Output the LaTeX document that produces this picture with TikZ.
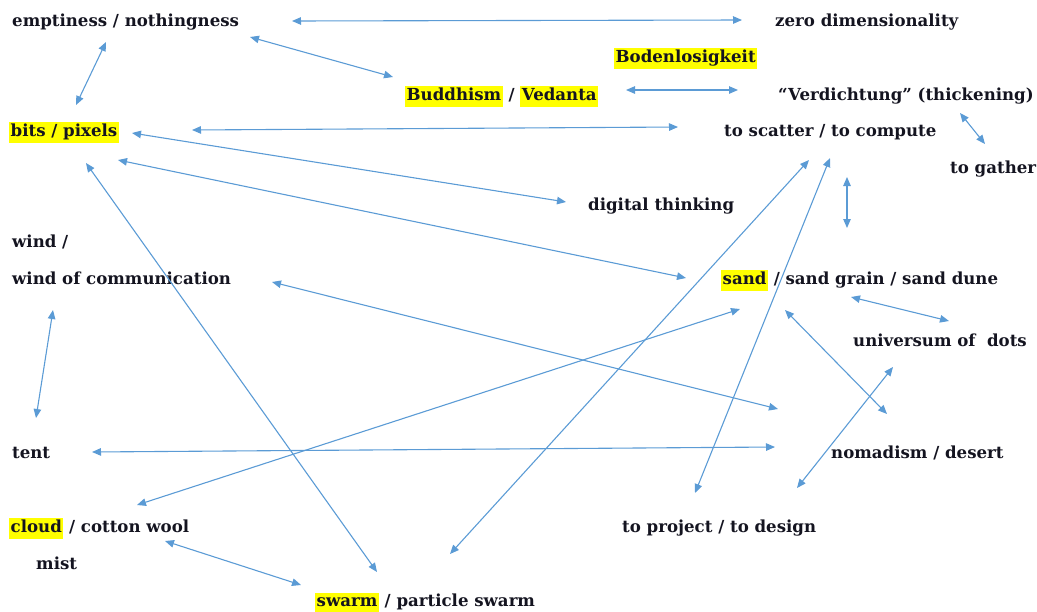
\documentclass[tikz,border=0pt]{standalone}
\usepackage{fontspec}
\setmainfont{DejaVu Serif}
\usetikzlibrary{arrows.meta}
\definecolor{arrowblue}{HTML}{5B9BD5}
\definecolor{hly}{HTML}{FFFF00}
\definecolor{textdark}{HTML}{141420}
\newcommand{\hlword}[1]{{\setlength{\fboxsep}{1.5pt}\colorbox{hly}{\rule[-5.5pt]{0pt}{17.5pt}#1}}}
\tikzset{
  lbl/.style={anchor=base west, inner sep=0pt, text=textdark,
    font=\bfseries\fontsize{16.6}{19}\selectfont},
  link/.style={draw=arrowblue, line width=1.1pt,
    {Triangle[length=9pt,width=7.5pt,fill=arrowblue]}-{Triangle[length=9pt,width=7.5pt,fill=arrowblue]}}
}
\begin{document}
\begin{tikzpicture}[x=1pt,y=-1pt]
\useasboundingbox (0,0) rectangle (1037,611);
% labels
\node[lbl] (empt) at (12,26) {emptiness / nothingness};
\node[lbl] (zero) at (775,26) {zero dimensionality};
\node[lbl] (boden) at (614,62) {\hlword{Bodenlosigkeit}};
\node[lbl] (budd) at (405,100) {\hlword{Buddhism} / \hlword{Vedanta}};
\node[lbl] (verd) at (778,100) {“Verdichtung” (thickening)};
\node[lbl] (bits) at (9,136) {\hlword{bits / pixels}};
\node[lbl] (scat) at (724,136) {to scatter / to compute};
\node[lbl] (gath) at (950,173) {to gather};
\node[lbl] (digi) at (588,210) {digital thinking};
\node[lbl] (wind) at (12,247) {wind /};
\node[lbl] (windc) at (12,284) {wind of communication};
\node[lbl] (sand) at (721,284) {\hlword{sand} / sand grain / sand dune};
\node[lbl] (univ) at (853,346) {universum of \ dots};
\node[lbl] (tent) at (12,458) {tent};
\node[lbl] (nomad) at (831,458) {nomadism / desert};
\node[lbl] (cloud) at (9,532) {\hlword{cloud} / cotton wool};
\node[lbl] (mist) at (36,569) {mist};
\node[lbl] (proj) at (622,532) {to project / to design};
\node[lbl] (swarm) at (315,606) {\hlword{swarm} / particle swarm};
% arrow end points
\coordinate (a1) at (292,21);  \coordinate (b1) at (742,20);
\coordinate (a2) at (250,37);  \coordinate (b2) at (393,77);
\coordinate (a3) at (106,42);  \coordinate (b3) at (76,105);
\coordinate (a4) at (626,90);  \coordinate (b4) at (738,90);
\coordinate (a5) at (192,130); \coordinate (b5) at (678,127);
\coordinate (a6) at (132,133); \coordinate (b6) at (566,202);
\coordinate (a7) at (118,160); \coordinate (b7) at (686,278);
\coordinate (a8) at (86,163);  \coordinate (b8) at (377,572);
\coordinate (a9) at (960,113); \coordinate (b9) at (985,144);
\coordinate (a10) at (847,177); \coordinate (b10) at (847,228);
\coordinate (a11) at (809,160); \coordinate (b11) at (450,554);
\coordinate (a12) at (830,158); \coordinate (b12) at (695,493);
\coordinate (a13) at (53,310); \coordinate (b13) at (36,418);
\coordinate (a14) at (272,282); \coordinate (b14) at (778,409);
\coordinate (a15) at (92,452); \coordinate (b15) at (775,447);
\coordinate (a16) at (137,505); \coordinate (b16) at (740,309);
\coordinate (a17) at (851,297); \coordinate (b17) at (949,321);
\coordinate (a18) at (785,310); \coordinate (b18) at (887,414);
\coordinate (a19) at (893,367); \coordinate (b19) at (797,488);
\coordinate (a20) at (165,541); \coordinate (b20) at (301,585);
% connectors
\foreach \i in {1,...,20} {\draw[link] (a\i) -- (b\i);}
\end{tikzpicture}
\end{document}
